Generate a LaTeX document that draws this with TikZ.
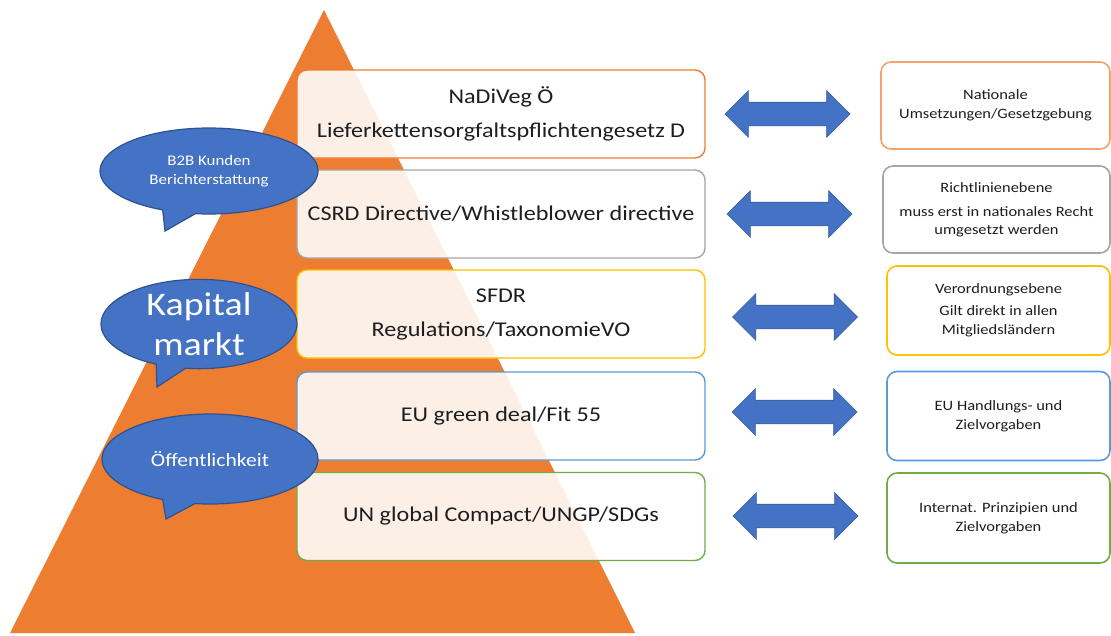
\documentclass[tikz,border=0pt]{standalone}
\usepackage{fontspec}
\setmainfont{Carlito}[FakeStretch=1.15]
\usetikzlibrary{shapes.callouts,shapes.arrows}
\definecolor{triorange}{HTML}{ED7D31}
\definecolor{cblue}{HTML}{4472C4}
\definecolor{cbluedark}{HTML}{2F528F}
\definecolor{bgray}{HTML}{A5A5A5}
\definecolor{byellow}{HTML}{FFC000}
\definecolor{bblue}{HTML}{5B9BD5}
\definecolor{bgreen}{HTML}{70AD47}
\definecolor{borange}{HTML}{F4A46A}
\definecolor{txt}{HTML}{1E1E1E}
\tikzset{
  midbox/.style={rectangle, rounded corners=10pt, fill=white, fill opacity=0.88, text opacity=1,
    line width=1.4pt, minimum width=408pt, minimum height=88pt, align=center, text=txt,
    font=\fontsize{21}{34}\selectfont, inner sep=0pt},
  sidebox/.style={rectangle, rounded corners=10pt, fill=white, line width=1.6pt,
    align=center, text=txt, inner sep=0pt, font=\fontsize{14.3}{19}\selectfont},
  darrow/.style={double arrow, fill=cblue, draw=cblue!80!black, line width=0.6pt,
    minimum height=125pt, inner xsep=0pt, inner ysep=11.5pt, double arrow head extend=11.5pt},
  bubble/.style={ellipse callout, fill=cblue, draw=cbluedark, line width=1.2pt,
    text=white, align=center, inner sep=0pt, callout pointer arc=18}
}
\begin{document}
\begin{tikzpicture}[x=1pt,y=-1pt]
\useasboundingbox (0,0) rectangle (1111,635);
\fill[white] (0,0) rectangle (1111,635);
% pyramid
\fill[triorange] (324,10) -- (635,633) -- (10,633) -- cycle;
% middle boxes
\node[midbox, draw=triorange] (m1) at (501,114) {NaDiVeg Ö\\Lieferkettensorgfaltspflichtengesetz D};
\node[midbox, draw=bgray] (m2) at (501,214) {CSRD Directive/Whistleblower directive};
\node[midbox, draw=byellow] (m3) at (501,314) {SFDR\\Regulations/TaxonomieVO};
\node[midbox, draw=bblue] (m4) at (501,416) {EU green deal/Fit 55};
\node[midbox, draw=bgreen] (m5) at (501,516.5) {UN global Compact/UNGP/SDGs};
% side boxes
\node[sidebox, draw=borange, minimum width=229pt, minimum height=87pt] (s1) at (995.5,105.5) {Nationale\\Umsetzungen/Gesetzgebung};
\node[sidebox, draw=bgray, minimum width=227pt, minimum height=87pt, font=\fontsize{14.3}{18}\selectfont] (s2) at (996.5,209.5) {Richtlinienebene\\[6pt]muss erst in nationales Recht\\umgesetzt werden};
\node[sidebox, draw=byellow, minimum width=223pt, minimum height=89pt] (s3) at (998.5,310.5) {Verordnungsebene\\[3pt]Gilt direkt in allen\\Mitgliedsländern};
\node[sidebox, draw=bblue, minimum width=223pt, minimum height=89pt] (s4) at (998.5,416) {EU Handlungs- und\\Zielvorgaben};
\node[sidebox, draw=bgreen, minimum width=223pt, minimum height=90pt] (s5) at (998.5,518) {Internat. Prinzipien und\\Zielvorgaben};
% arrows
\node[darrow] (a1) at (787.5,114) {};
\node[darrow] (a2) at (789.5,214) {};
\node[darrow] (a3) at (795,317) {};
\node[darrow] (a4) at (794.5,412) {};
\node[darrow] (a5) at (795.5,516) {};
% callouts
\node[bubble, minimum width=218pt, minimum height=86pt, font=\fontsize{14.7}{19}\selectfont, callout absolute pointer={(165,231)}] (c1) at (209,171) {B2B Kunden\\Berichterstattung};
\node[bubble, minimum width=196pt, minimum height=88pt, font=\fontsize{33}{40}\selectfont, callout absolute pointer={(157,387)}] (c2) at (199,324) {Kapital\\markt};
\node[bubble, minimum width=216pt, minimum height=90pt, font=\fontsize{18.8}{22}\selectfont, callout absolute pointer={(166,519)}] (c3) at (210,459) {Öffentlichkeit};
\end{tikzpicture}
\end{document}
